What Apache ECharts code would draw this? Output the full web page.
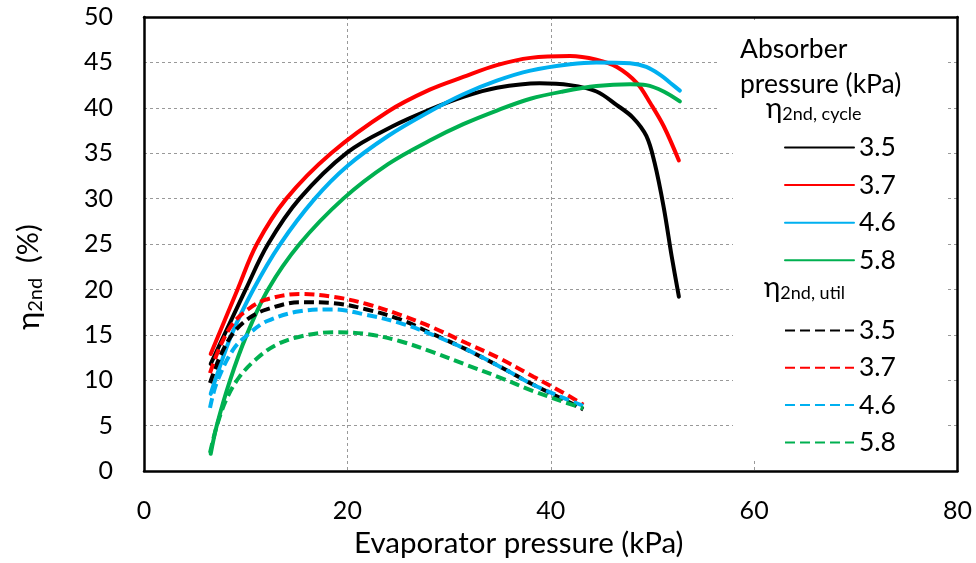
<!DOCTYPE html>
<html>
<head>
<meta charset="utf-8">
<script src="https://cdn.jsdelivr.net/npm/echarts@6/dist/echarts.min.js"></script>
<style>html,body{margin:0;padding:0;background:#fff}#c{width:976px;height:563px}</style>
</head>
<body>
<div id="c"></div>
<script>
// ---- data ----
var xTicks = [0, 20, 40, 60, 80];
var yTicks = [0, 5, 10, 15, 20, 25, 30, 35, 40, 45, 50];
var pressures = ['3.5', '3.7', '4.6', '5.8'];
var colors = ['#000000', '#FF0000', '#00B0F0', '#00B050'];

// eta_2nd, cycle (solid)
var cyc35X = [6.56, 10.0, 12.2, 15.3, 20.0, 24.5, 28.1, 31.4, 34.7, 38.9, 41.9, 44.5, 46.5, 48.1, 49.4, 50.2, 51.1, 51.9, 52.6];
var cyc35Y = [11.8, 20.0, 25.0, 30.0, 35.1, 38.0, 39.8, 41.2, 42.2, 42.7, 42.5, 41.8, 40.3, 38.9, 36.9, 34.0, 29.1, 23.6, 19.2];
var cyc37X = [6.56, 9.2, 11.1, 14.0, 18.4, 24.0, 28.1, 31.4, 34.7, 38.0, 41.9, 44.5, 46.5, 48.5, 49.8, 51.1, 52.6];
var cyc37Y = [12.9, 20.0, 25.0, 30.0, 35.0, 39.6, 42.0, 43.4, 44.7, 45.5, 45.7, 45.3, 44.5, 42.7, 40.5, 38.0, 34.2];
var cyc46X = [6.56, 7.0, 8.6, 10.75, 13.4, 16.8, 20.0, 24.0, 28.1, 31.4, 34.7, 38.0, 41.9, 44.5, 47.8, 49.4, 50.8, 51.8, 52.7];
var cyc46Y = [8.5, 10.0, 15.0, 20.0, 25.0, 30.0, 33.6, 36.9, 39.6, 41.5, 43.0, 44.1, 44.8, 45.0, 44.9, 44.5, 43.6, 42.7, 41.9];
var cyc58X = [6.56, 7.15, 8.46, 10.1, 12.2, 15.3, 19.6, 24.0, 28.1, 31.4, 34.7, 38.0, 41.2, 44.5, 47.8, 49.4, 51.1, 52.7];
var cyc58Y = [1.9, 5.0, 10.0, 15.0, 20.0, 25.0, 30.0, 33.8, 36.4, 38.2, 39.7, 41.0, 41.8, 42.4, 42.6, 42.5, 41.8, 40.7];

// eta_2nd, util (dashed)
var utl35X = [6.49, 7.47, 8.78, 10.4, 12.06, 15.3, 18.6, 21.9, 25.2, 28.4, 31.7, 35.0, 38.3, 41.6, 43.2];
var utl35Y = [9.7, 12.6, 15.2, 16.9, 17.8, 18.6, 18.5, 17.8, 16.7, 15.1, 13.4, 11.5, 9.5, 7.7, 6.8];
var utl37X = [6.49, 7.47, 8.78, 10.4, 12.06, 15.3, 18.6, 21.9, 25.2, 28.4, 31.7, 35.0, 38.3, 41.6, 43.2];
var utl37Y = [10.8, 13.7, 16.3, 17.95, 18.9, 19.5, 19.2, 18.4, 17.2, 15.8, 14.1, 12.4, 10.4, 8.4, 7.3];
var utl46X = [6.49, 7.14, 8.78, 10.4, 12.06, 15.3, 18.6, 21.9, 25.2, 28.4, 31.7, 35.0, 38.3, 41.6, 43.4];
var utl46Y = [6.95, 9.7, 13.4, 15.2, 16.5, 17.6, 17.8, 17.2, 16.3, 15.0, 13.4, 11.5, 9.5, 7.9, 7.1];
var utl58X = [6.49, 7.14, 8.1, 9.4, 11.1, 13.0, 15.3, 18.6, 21.9, 25.2, 28.4, 31.7, 35.0, 38.3, 41.6, 43.2];
var utl58Y = [2.0, 4.9, 7.9, 10.4, 12.4, 13.9, 14.8, 15.3, 15.1, 14.3, 13.1, 11.7, 10.3, 8.8, 7.5, 6.9];

// ---- build ----
function zip(xs, ys) { return xs.map(function (x, i) { return [x, ys[i]]; }); }
var cycX = [cyc35X, cyc37X, cyc46X, cyc58X], cycY = [cyc35Y, cyc37Y, cyc46Y, cyc58Y];
var utlX = [utl35X, utl37X, utl46X, utl58X], utlY = [utl35Y, utl37Y, utl46Y, utl58Y];

var FONT = 'Lato';
var series = [];
pressures.forEach(function (p, i) {
  series.push({
    name: 'cycle ' + p, type: 'line', data: zip(cycX[i], cycY[i]),
    showSymbol: false, symbol: 'none', smooth: 0.35,
    lineStyle: { color: colors[i], width: 4, cap: 'round' },
    itemStyle: { color: colors[i] }, z: 3
  });
});
pressures.forEach(function (p, i) {
  series.push({
    name: 'util ' + p, type: 'line', data: zip(utlX[i], utlY[i]),
    showSymbol: false, symbol: 'none', smooth: 0.35,
    lineStyle: { color: colors[i], width: 4, type: [10, 5] },
    itemStyle: { color: colors[i] }, z: 3
  });
});

var legendBase = {
  orient: 'vertical', left: 784, padding: 0, itemWidth: 69, itemHeight: 14,
  selectedMode: false,
  itemStyle: { opacity: 0 },
  textStyle: { fontFamily: FONT, fontSize: 26.5, color: '#000', lineHeight: 26 },
  formatter: function (n) { return n.split(' ')[1]; }
};

var frameLine = { show: true, onZero: false, lineStyle: { color: '#000', width: 2.5 } };
var gridSplit = { show: true, showMinLine: false, showMaxLine: false, lineStyle: { color: '#999', type: [3, 3], width: 1 } };

var chart = echarts.init(document.getElementById('c'), null, { renderer: 'canvas' });
chart.setOption({
  backgroundColor: '#fff',
  animation: false,
  textStyle: { fontFamily: FONT },
  grid: { left: 144, top: 17, right: 18.5, bottom: 91.5, containLabel: false },
  xAxis: [{
    type: 'value', min: xTicks[0], max: xTicks[xTicks.length - 1], interval: 20, position: 'bottom',
    name: 'Evaporator pressure (kPa)', nameLocation: 'middle', nameGap: 56,
    nameTextStyle: { fontFamily: FONT, fontSize: 29.5, color: '#000', padding: [0, 64, 0, 0] },
    axisLine: frameLine, axisTick: { show: false },
    axisLabel: { fontFamily: FONT, fontSize: 25, color: '#000', margin: 27 },
    splitLine: gridSplit
  }, {
    type: 'value', min: xTicks[0], max: xTicks[xTicks.length - 1], interval: 20, position: 'top',
    axisLine: frameLine, axisTick: { show: false }, axisLabel: { show: false }, splitLine: { show: false }
  }],
  yAxis: [{
    type: 'value', min: yTicks[0], max: yTicks[yTicks.length - 1], interval: 5, position: 'left',
    name: '{e|η}{s|2nd}{p|  (%)}', nameLocation: 'middle', nameGap: 98, nameRotate: 90,
    nameTextStyle: {
      fontFamily: FONT, fontSize: 29, color: '#000', padding: [0, 66, 0, 0],
      rich: {
        e: { fontFamily: FONT, fontSize: 31, color: '#000' },
        s: { fontFamily: FONT, fontSize: 20, color: '#000', padding: [14, 0, 0, 0] },
        p: { fontFamily: FONT, fontSize: 29, color: '#000' }
      }
    },
    axisLine: frameLine, axisTick: { show: false },
    axisLabel: { fontFamily: FONT, fontSize: 25, color: '#000', margin: 31 },
    splitLine: gridSplit
  }, {
    type: 'value', min: yTicks[0], max: yTicks[yTicks.length - 1], interval: 5, position: 'right',
    axisLine: frameLine, axisTick: { show: false }, axisLabel: { show: false }, splitLine: { show: false }
  }],
  legend: [
    Object.assign({}, legendBase, { top: 134, itemGap: 10.6, data: pressures.map(function (p) { return 'cycle ' + p; }) }),
    Object.assign({}, legendBase, { top: 317, itemGap: 10.3, data: pressures.map(function (p) { return 'util ' + p; }) })
  ],
  graphic: [
    { type: 'rect', z: 1, silent: true, shape: { x: 720, y: 20, width: 228, height: 95 }, style: { fill: '#fff' } },
    { type: 'rect', z: 1, silent: true, shape: { x: 733, y: 20, width: 215, height: 438 }, style: { fill: '#fff' } },
    { type: 'text', z: 5, left: 740, top: 32, style: { text: 'Absorber\npressure (kPa)', fontFamily: FONT, fontSize: 26.5, lineHeight: 35, fill: '#000' } },
    { type: 'text', z: 5, left: 766, top: 95, style: {
        text: '{e|η}{s|2nd, cycle}', fill: '#000',
        rich: { e: { fontFamily: FONT, fontSize: 28, fill: '#000' }, s: { fontFamily: FONT, fontSize: 18, fill: '#000', padding: [10, 0, 0, 0] } } } },
    { type: 'text', z: 5, left: 764, top: 274, style: {
        text: '{e|η}{s|2nd, util}', fill: '#000',
        rich: { e: { fontFamily: FONT, fontSize: 28, fill: '#000' }, s: { fontFamily: FONT, fontSize: 18, fill: '#000', padding: [10, 0, 0, 0] } } } }
  ],
  series: series
});
</script>
</body>
</html>
